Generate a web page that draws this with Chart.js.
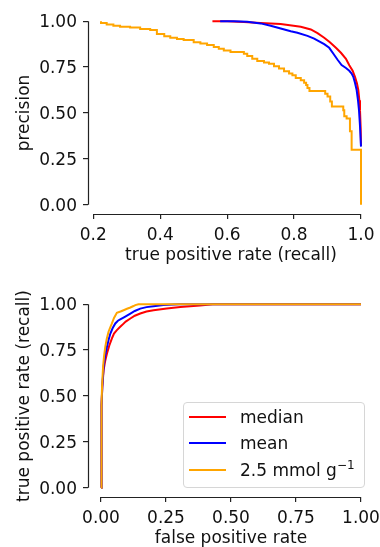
<!DOCTYPE html>
<html>
<head>
<meta charset="utf-8">
<script src="https://cdn.jsdelivr.net/npm/chart.js@4.4.1/dist/chart.umd.min.js"></script>
<style>
  body { margin: 0; background: #fff; width: 380px; height: 547px; position: relative; overflow: hidden; font-family: "DejaVu Sans", sans-serif; }
  canvas { position: absolute; left: 0; }
  #prCanvas { top: 0; }
  #rocCanvas { top: 270px; }
  #legend { position: absolute; left: 183px; top: 402px; width: 180px; height: 84px; border: 1px solid #d6d6d6; border-radius: 4px; background: rgba(255,255,255,0.8); font-size: 17px; color: #111; }
  .row { position: absolute; left: 0; height: 20px; display: flex; align-items: center; white-space: nowrap; }
  .swatch { width: 37px; height: 2px; margin-left: 5px; margin-right: 14px; }
  sup { font-size: 12px; line-height: 0; vertical-align: 7px; }
</style>
</head>
<body>
<canvas id="prCanvas" width="380" height="270"></canvas>
<canvas id="rocCanvas" width="380" height="279"></canvas>
<div id="legend"></div>
<script>
// series labels / colours
const seriesLabels = ['median', 'mean', '2.5 mmol g<sup>\u22121</sup>'];
const seriesColors = ['#ff0000', '#0000ff', '#ffa500'];

// precision-recall curves: [recall, precision]
const prMedian = [[0.556,1.0],[0.6,1.0],[0.65,0.996],[0.7,0.99],[0.76,0.984],[0.82,0.97],[0.85,0.955],[0.87,0.935],[0.89,0.91],[0.907,0.885],[0.925,0.855],[0.94,0.828],[0.955,0.795],[0.965,0.76],[0.975,0.73],[0.982,0.697],[0.988,0.66],[0.992,0.625],[0.995,0.57],[0.997,0.516],[0.999,0.42],[1.0,0.32]];
const prMean = [[0.579,1.0],[0.62,1.0],[0.66,0.997],[0.7,0.988],[0.73,0.975],[0.76,0.96],[0.79,0.945],[0.81,0.937],[0.84,0.92],[0.86,0.905],[0.875,0.89],[0.89,0.875],[0.905,0.855],[0.917,0.824],[0.93,0.79],[0.942,0.761],[0.955,0.745],[0.965,0.73],[0.972,0.715],[0.977,0.697],[0.982,0.665],[0.987,0.625],[0.991,0.57],[0.994,0.516],[0.997,0.43],[1.0,0.317]];
const prThreshold = [[0.223,1.0],[0.24,0.99],[0.26,0.982],[0.28,0.975],[0.31,0.97],[0.34,0.965],[0.37,0.958],[0.39,0.952],[0.412,0.93],[0.43,0.918],[0.45,0.91],[0.47,0.903],[0.5,0.897],[0.52,0.885],[0.54,0.878],[0.56,0.87],[0.575,0.86],[0.59,0.85],[0.61,0.84],[0.65,0.832],[0.66,0.822],[0.675,0.81],[0.69,0.795],[0.71,0.783],[0.725,0.775],[0.74,0.768],[0.755,0.755],[0.77,0.742],[0.785,0.728],[0.795,0.715],[0.805,0.705],[0.82,0.69],[0.83,0.678],[0.836,0.665],[0.84,0.652],[0.846,0.636],[0.893,0.62],[0.9,0.605],[0.908,0.59],[0.913,0.562],[0.947,0.535],[0.95,0.515],[0.957,0.482],[0.967,0.47],[0.972,0.4],[0.982,0.3],[1.0,0.3],[1.0,0.0]];

// ROC curves: [false positive rate, true positive rate]
const rocMedian = [[0,0],[0.001,0.2],[0.003,0.45],[0.005,0.55],[0.01,0.641],[0.016,0.69],[0.023,0.732],[0.032,0.775],[0.042,0.814],[0.05,0.84],[0.061,0.859],[0.07,0.872],[0.081,0.886],[0.095,0.905],[0.113,0.922],[0.13,0.937],[0.151,0.949],[0.175,0.96],[0.202,0.967],[0.253,0.976],[0.305,0.985],[0.381,0.993],[0.43,1.0],[1.0,1.0]];
const rocMean = [[0,0],[0.001,0.2],[0.003,0.45],[0.005,0.55],[0.01,0.66],[0.016,0.72],[0.023,0.768],[0.03,0.81],[0.036,0.84],[0.045,0.87],[0.055,0.895],[0.065,0.91],[0.074,0.917],[0.09,0.93],[0.113,0.949],[0.13,0.963],[0.151,0.976],[0.175,0.984],[0.202,0.989],[0.24,0.996],[0.3,1.0],[1.0,1.0]];
const rocThreshold = [[0,0],[0.001,0.2],[0.003,0.45],[0.004,0.55],[0.008,0.66],[0.012,0.72],[0.0165,0.768],[0.022,0.81],[0.029,0.85],[0.036,0.875],[0.042,0.895],[0.05,0.925],[0.061,0.953],[0.075,0.96],[0.087,0.967],[0.1,0.975],[0.113,0.982],[0.125,0.99],[0.132,0.995],[0.144,1.0],[1.0,1.0]];

// tick labels
const prXTicks = [0.2, 0.4, 0.6, 0.8, 1.0];
const rocXTicks = [0, 0.25, 0.5, 0.75, 1.0];
const yTicks = [0, 0.25, 0.5, 0.75, 1.0];

const axisColor = '#222';
const font = { family: 'DejaVu Sans', size: 17 };

// matplotlib-like trimmed spines (from first to last tick)
const trimmedSpines = {
    id: 'trimmedSpines',
    afterDraw(chart) {
        const {ctx, chartArea, scales: {x, y}} = chart;
        const xt = x.ticks, yt = y.ticks;
        ctx.save();
        ctx.strokeStyle = axisColor;
        ctx.lineWidth = 1.2;
        ctx.beginPath();
        ctx.moveTo(Math.round(chartArea.left) + 0.5, y.getPixelForValue(yt[0].value));
        ctx.lineTo(Math.round(chartArea.left) + 0.5, y.getPixelForValue(yt[yt.length - 1].value));
        ctx.moveTo(x.getPixelForValue(xt[0].value), Math.round(chartArea.bottom) + 0.5);
        ctx.lineTo(x.getPixelForValue(xt[xt.length - 1].value), Math.round(chartArea.bottom) + 0.5);
        ctx.stroke();
        ctx.restore();
    }
};

function toPoints(pairs) {
    return pairs.map(([x, y]) => ({x, y}));
}

function dataLimits(seriesList) {
    const xs = seriesList.flat().map(p => p[0]);
    const lo = Math.min(...xs), hi = Math.max(...xs);
    const m = (hi - lo) * 0.05;
    return [lo - m, hi + m];
}

function makeChart(canvasId, seriesList, steppedLast, xTicks, xDecimals, xTitle, yTitle, cfg) {
    const [xmin, xmax] = dataLimits(seriesList);
    const datasets = seriesList.map((s, i) => ({
        data: toPoints(s),
        borderColor: seriesColors[i],
        borderWidth: 2,
        pointRadius: 0,
        tension: 0,
        fill: false,
        stepped: (steppedLast && i === 2) ? 'after' : false,
        order: seriesList.length - i
    }));
    return new Chart(document.getElementById(canvasId), {
        type: 'line',
        data: { datasets },
        plugins: [trimmedSpines],
        options: {
            responsive: false,
            animation: false,
            devicePixelRatio: 1,
            layout: { padding: { top: cfg.top, right: 6, left: 0, bottom: 0 } },
            plugins: { legend: { display: false }, tooltip: { enabled: false } },
            scales: {
                x: {
                    type: 'linear',
                    min: xmin,
                    max: xmax,
                    afterBuildTicks: (scale) => { scale.ticks = xTicks.map(v => ({value: v})); },
                    afterFit: (scale) => { scale.height = cfg.xHeight; scale.paddingLeft = 0; scale.paddingRight = 0; },
                    border: { display: false },
                    grid: { drawOnChartArea: false, drawTicks: true, tickLength: 5, color: axisColor, lineWidth: 1.2 },
                    ticks: { font, color: '#111', padding: 6, maxRotation: 0, autoSkip: false, callback: v => v.toFixed(xDecimals) },
                    title: { display: true, text: xTitle, font, color: '#111', padding: { top: 0, bottom: cfg.xTitlePad } }
                },
                y: {
                    type: 'linear',
                    min: -0.05,
                    max: 1.05,
                    afterBuildTicks: (scale) => { scale.ticks = yTicks.map(v => ({value: v})); },
                    afterFit: (scale) => { scale.width = 88; scale.paddingTop = 0; scale.paddingBottom = 0; },
                    border: { display: false },
                    grid: { drawOnChartArea: false, drawTicks: true, tickLength: 5, color: axisColor, lineWidth: 1.2 },
                    ticks: { font, color: '#111', padding: 6, labelOffset: 1.5, autoSkip: false, callback: v => v.toFixed(2) },
                    title: { display: true, text: yTitle, font, color: '#111', padding: { top: 14, bottom: 0 } }
                }
            }
        }
    });
}

makeChart('prCanvas', [prMedian, prMean, prThreshold], true, prXTicks, 1,
    'true positive rate (recall)', 'precision', { top: 12, xHeight: 56, xTitlePad: 4 });
makeChart('rocCanvas', [rocMedian, rocMean, rocThreshold], false, rocXTicks, 2,
    'false positive rate', 'true positive rate (recall)', { top: 25, xHeight: 52, xTitlePad: 0 });

// legend inside the ROC panel
const legend = document.getElementById('legend');
const rowTops = [4, 30, 57];
seriesLabels.forEach((label, i) => {
    const row = document.createElement('div');
    row.className = 'row';
    row.style.top = rowTops[i] + 'px';
    row.innerHTML = '<span class="swatch" style="background:' + seriesColors[i] + '"></span><span>' + label + '</span>';
    legend.appendChild(row);
});
</script>
</body>
</html>
